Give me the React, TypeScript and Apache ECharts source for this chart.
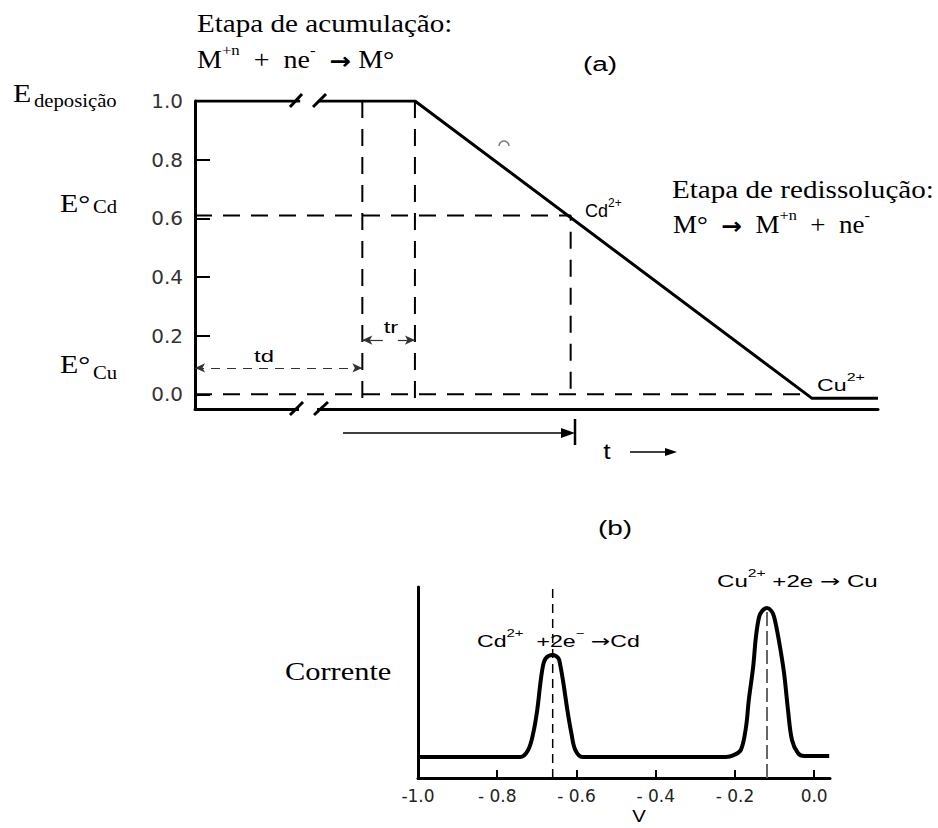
import React, { useEffect, useRef } from "react";
import * as echarts from "echarts";

// ---------------- Panel (a): applied potential E vs time (arbitrary time units) ----------------
const potentialLabels = [0, 0.2, 0.4, 0.6, 0.8, 1.0];
const potentialTickMarks = [0, 0.2, 0.4, 0.6, 0.8];
const timeRange = [0, 10];
const potentialRange = [-0.05, 1.0];
// applied potential program (the line is interrupted by the axis break)
const potentialBeforeBreak = [
  [0, 1.0],
  [1.54, 1.0],
];
const potentialAfterBreak = [
  [1.8, 1.0],
  [3.22, 1.0],
  [9.03, -0.013],
  [10, -0.013],
];
const timeDepositionEnd = 2.45; // end of td
const timeRestEnd = 3.22; // end of tr / start of the sweep
const timeCdStripping = 5.5;
const timeCuStripping = 8.97;
const potentialCd = 0.61;
const potentialCu = 0.0;
const tdArrowLevel = 0.09;
const trArrowLevel = 0.185;
const trArrowGap = [2.75, 2.97];

// ---------------- Panel (b): stripping voltammogram ----------------
const voltageLabels = [-1.0, -0.8, -0.6, -0.4, -0.2, 0.0];
const voltageTickMarks = [-0.8, -0.6, -0.4, -0.2, 0.0];
const voltageRange = [-1.0, 0.04];
const currentRange = [0, 10];
const voltage = [
  -1.0, -0.742, -0.722, -0.709, -0.699, -0.691, -0.684, -0.677, -0.661, -0.646, -0.641, -0.633,
  -0.623, -0.613, -0.603, -0.585, -0.223, -0.203, -0.185, -0.172, -0.165, -0.154, -0.147, -0.139,
  -0.131, -0.119, -0.108, -0.101, -0.089, -0.076, -0.066, -0.056, -0.041, -0.025, 0.038,
];
const current = [
  1.1, 1.1, 1.47, 2.36, 3.56, 4.97, 5.92, 6.28, 6.44, 6.28, 5.92, 4.97, 3.56, 2.36, 1.47, 1.1, 1.1,
  1.2, 1.47, 2.67, 4.08, 5.81, 7.38, 8.43, 8.75, 8.9, 8.75, 8.43, 7.2, 5.5, 3.56, 1.99, 1.31, 1.15,
  1.15,
];
const cdPeakVoltage = -0.66;
const cuPeakVoltage = -0.119;
const cuPeakCurrent = 8.9;

const BLACK = "#000";
const serif = "'Liberation Serif', 'Times New Roman', serif";
const sans = "'Liberation Sans', Arial, sans-serif";
const wideSans = "'DejaVu Sans', 'Liberation Sans', sans-serif";

function text(
  content: string,
  x: number,
  y: number,
  size: number,
  family: string,
  sx = 1,
  align = "left",
  rich?: any
) {
  return {
    type: "text",
    x,
    y,
    scaleX: sx,
    z: 60,
    silent: true,
    style: {
      text: content,
      fontSize: size,
      fontFamily: family,
      fill: BLACK,
      align,
      textAlign: align,
      verticalAlign: "middle",
      textVerticalAlign: "middle",
      rich,
    },
  };
}

const serifRich = (size: number, supSize: number) => ({
  n: { fontSize: size, fontFamily: serif, lineHeight: size + 5, verticalAlign: "bottom", fill: BLACK },
  s: { fontSize: supSize, fontFamily: serif, lineHeight: supSize, verticalAlign: "top", fill: BLACK },
  a: { fontSize: size - 2, fontFamily: wideSans, fontWeight: "bold", lineHeight: size + 5, verticalAlign: "bottom", fill: BLACK },
});

const sansRich = (size: number, supSize: number) => ({
  n: { fontSize: size, fontFamily: sans, lineHeight: size + 5, verticalAlign: "bottom", fill: BLACK },
  s: { fontSize: supSize, fontFamily: sans, lineHeight: supSize, verticalAlign: "top", fill: BLACK },
  a: { fontSize: size, fontFamily: wideSans, lineHeight: size + 5, verticalAlign: "bottom", fill: BLACK },
});

function seg(x1: number, y1: number, x2: number, y2: number, w = 3) {
  return { type: "line", z: 51, silent: true, shape: { x1, y1, x2, y2 }, style: { stroke: BLACK, lineWidth: w } };
}

function lineSeries(name: string, data: number[][], idx: number, lineStyle: any, extra: any = {}) {
  return {
    type: "line",
    name,
    xAxisIndex: idx,
    yAxisIndex: idx,
    data,
    symbol: "none",
    silent: true,
    lineStyle: { color: BLACK, ...lineStyle },
    ...extra,
  };
}

export default function App() {
  const ref = useRef<HTMLDivElement>(null);

  useEffect(() => {
    if (!ref.current) return;
    const chart = echarts.init(ref.current, null, { renderer: "svg" });

    const dashedA = { width: 2, type: [17, 11] };
    const voltammogram = voltage.map((v, i) => [v, current[i]]);

    const option: any = {
      animation: false,
      backgroundColor: "#fff",
      grid: [
        { left: 195, top: 101, width: 683, height: 308, outerBoundsMode: "none", containLabel: false },
        { left: 418, top: 587, width: 412, height: 191, outerBoundsMode: "none", containLabel: false },
      ],
      xAxis: [
        {
          gridIndex: 0,
          type: "value",
          min: timeRange[0],
          max: timeRange[1],
          axisLine: { show: true, onZero: false, lineStyle: { color: BLACK, width: 3 } },
          axisTick: { show: false },
          axisLabel: { show: false },
          splitLine: { show: false },
        },
        {
          gridIndex: 1,
          type: "value",
          min: voltageRange[0],
          max: voltageRange[1],
          axisLine: { show: true, onZero: false, lineStyle: { color: BLACK, width: 3 } },
          axisTick: {
            show: true,
            inside: true,
            length: 8,
            lineStyle: { color: BLACK, width: 2 },
            customValues: voltageTickMarks,
          },
          axisLabel: {
            show: true,
            customValues: voltageLabels,
            formatter: (v: number) =>
              v <= -0.999 ? "-1.0" : v < -0.001 ? "- " + Math.abs(v).toFixed(1) : "0.0",
            fontFamily: wideSans,
            fontSize: 17,
            color: "#222",
            margin: 9,
          },
          splitLine: { show: false },
        },
      ],
      yAxis: [
        {
          gridIndex: 0,
          type: "value",
          min: potentialRange[0],
          max: potentialRange[1],
          axisLine: { show: true, onZero: false, lineStyle: { color: BLACK, width: 3 } },
          axisTick: {
            show: true,
            inside: true,
            length: 15,
            lineStyle: { color: BLACK, width: 2 },
            customValues: potentialTickMarks,
          },
          axisLabel: {
            show: true,
            customValues: potentialLabels,
            formatter: (v: number) => v.toFixed(1),
            fontFamily: wideSans,
            fontSize: 20,
            color: "#333",
            margin: 12,
          },
          splitLine: { show: false },
        },
        {
          gridIndex: 1,
          type: "value",
          min: currentRange[0],
          max: currentRange[1],
          axisLine: { show: true, onZero: false, lineStyle: { color: BLACK, width: 3 } },
          axisTick: { show: false },
          axisLabel: { show: false },
          splitLine: { show: false },
        },
      ],
      series: [
        lineSeries("E (antes da quebra)", potentialBeforeBreak, 0, { width: 3 }, { z: 5 }),
        lineSeries("E (varredura)", potentialAfterBreak, 0, { width: 3 }, { z: 5 }),
        lineSeries(
          "td",
          [
            [timeDepositionEnd, potentialRange[1]],
            [timeDepositionEnd, potentialRange[0]],
          ],
          0,
          dashedA
        ),
        lineSeries(
          "tr",
          [
            [timeRestEnd, potentialRange[1]],
            [timeRestEnd, potentialRange[0]],
          ],
          0,
          dashedA
        ),
        lineSeries(
          "E°Cd",
          [
            [timeRange[0], potentialCd],
            [timeCdStripping, potentialCd],
            [timeCdStripping, potentialCu],
          ],
          0,
          dashedA
        ),
        lineSeries(
          "E°Cu",
          [
            [timeRange[0], potentialCu],
            [timeCuStripping, potentialCu],
          ],
          0,
          dashedA,
          {
            markLine: {
              silent: true,
              animation: false,
              symbol: ["arrow", "arrow"],
              symbolSize: [7, 10],
              label: { show: false },
              emphasis: { disabled: true },
              lineStyle: { color: "#333", width: 1, type: [9, 7] },
              data: [
                [
                  { coord: [timeRange[0], tdArrowLevel] },
                  { coord: [timeDepositionEnd, tdArrowLevel] },
                ],
                [
                  { coord: [trArrowGap[0], trArrowLevel], symbol: "none", lineStyle: { type: "solid", width: 1.2, color: "#333" } },
                  { coord: [timeDepositionEnd, trArrowLevel], symbol: "arrow" },
                ],
                [
                  { coord: [trArrowGap[1], trArrowLevel], symbol: "none", lineStyle: { type: "solid", width: 1.2, color: "#333" } },
                  { coord: [timeRestEnd, trArrowLevel], symbol: "arrow" },
                ],
              ],
            },
          }
        ),
        lineSeries("Corrente", voltammogram, 1, { width: 4 }, { smooth: 0.35, z: 5 }),
        lineSeries(
          "Cd pico",
          [
            [cdPeakVoltage, currentRange[0]],
            [cdPeakVoltage, currentRange[1]],
          ],
          1,
          { width: 1.5, type: [9, 6] }
        ),
        lineSeries(
          "Cu pico",
          [
            [cuPeakVoltage, currentRange[0]],
            [cuPeakVoltage, cuPeakCurrent],
          ],
          1,
          { width: 2, type: [14, 5], color: "#666" }
        ),
      ],
      graphic: [
        // axis break marks
        { type: "rect", z: 50, silent: true, shape: { x: 299, y: 402, width: 18, height: 13 }, style: { fill: "#fff" } },
        seg(290, 107, 302, 94),
        seg(313, 107, 326, 94),
        seg(290, 415, 303, 402),
        seg(314, 415, 328, 402),
        // time arrow below the axis
        seg(343, 433, 566, 433, 1.5),
        { type: "polygon", z: 51, silent: true, shape: { points: [[575, 433], [561, 428], [561, 438]] }, style: { fill: BLACK } },
        seg(575, 419, 575, 445, 2.5),
        seg(630, 452, 668, 452, 1.5),
        { type: "polygon", z: 51, silent: true, shape: { points: [[677, 452], [665, 448], [665, 456]] }, style: { fill: BLACK } },
        // small grey mark on the slope
        {
          type: "arc",
          z: 52,
          silent: true,
          shape: { cx: 504, cy: 146, r: 5, startAngle: Math.PI, endAngle: 2 * Math.PI },
          style: { stroke: "#777", lineWidth: 1.5, fill: "none" },
        },
        // serif annotations
        text("Etapa de acumulação:", 197, 23.5, 26, serif, 1.12),
        text("{n|M}{s|+n}{n|  +  ne}{s|-}{n|  }{a|→}{n| M°}", 197, 57.5, 25, serif, 1.12, "left", serifRich(25, 15)),
        text("E", 13, 93.5, 26, serif, 1.15),
        text("deposição", 34, 101, 18, serif, 1.15),
        text("E°", 60, 203.5, 26, serif, 1.15),
        text("Cd", 93, 207, 18, serif, 1.15),
        text("E°", 60, 364, 26, serif, 1.15),
        text("Cu", 93, 373, 18, serif, 1.15),
        text("Etapa de redissolução:", 672, 189, 26, serif, 1.12),
        text("{n|M°  }{a|→}{n|  M}{s|+n}{n|  +  ne}{s|-}", 673, 222.5, 25, serif, 1.08, "left", serifRich(25, 15)),
        text("Corrente", 285, 671.5, 26, serif, 1.17),
        // sans annotations
        text("(a)", 600, 64, 20, sans, 1.4, "center"),
        text("(b)", 615, 528, 20, sans, 1.4, "center"),
        text("{n|Cd}{s|2+}", 585, 208.5, 18, sans, 1.0, "left", sansRich(18, 12)),
        text("{n|Cu}{s|2+}", 817, 382.5, 16, sans, 1.45, "left", sansRich(16, 11)),
        text("tr", 391, 327, 17, sans, 1.4, "center"),
        text("td", 264, 356, 17, sans, 1.4, "center"),
        text("t", 607, 451, 22, sans, 1.2, "center"),
        text("{n|Cu}{s|2+}{n| +2e }{a|→}{n| Cu}", 717, 578.5, 17, sans, 1.42, "left", sansRich(17, 11)),
        text("{n|Cd}{s|2+}{n|  +2e}{s|−}{n| }{a|→}{n|Cd}", 477, 638.5, 17, sans, 1.36, "left", sansRich(17, 11)),
        text("V", 639, 816, 17, sans, 1.2, "center"),
      ],
    };

    chart.setOption(option);
    return () => chart.dispose();
  }, []);

  return (
    <div
      ref={ref}
      style={{ position: "fixed", left: 0, top: 0, width: 938, height: 828, background: "#fff" }}
    />
  );
}
